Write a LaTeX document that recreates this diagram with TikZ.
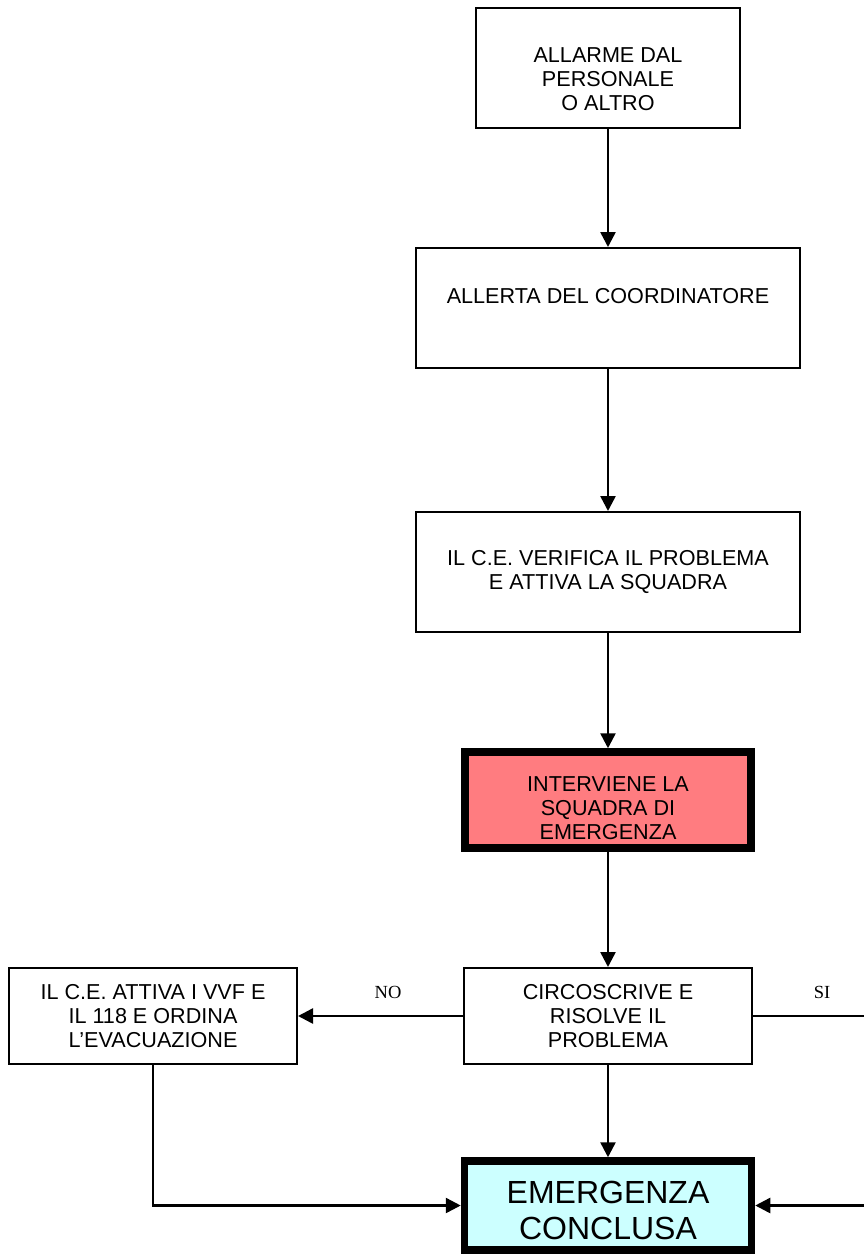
\documentclass[tikz,border=0pt]{standalone}
\usepackage{fontspec}
\setmainfont{Liberation Sans}
\newfontfamily\timesfont{Liberation Serif}
\usetikzlibrary{arrows.meta}
\definecolor{boxred}{HTML}{FF7C80}
\definecolor{boxcyan}{HTML}{CCFFFF}
\begin{document}
\begin{tikzpicture}[x=1pt,y=-1pt,
  box/.style={draw, line width=2pt, inner sep=0pt, fill=white},
  thickbox/.style={draw, line width=7.5pt, inner sep=0pt},
  boxtext/.style={align=center, font=\fontsize{21.6}{24}\selectfont},
  bigtext/.style={align=center, font=\fontsize{32}{36}\selectfont},
  flow/.style={line width=2.5pt, -{Triangle[length=15pt,width=15pt]}},
  yesno/.style={font=\timesfont\fontsize{18.5}{20}\selectfont}]
\useasboundingbox (0,0) rectangle (863,1254);

\node[box, minimum width=264pt, minimum height=120pt,
  label={[name=t1, boxtext, yshift=-11pt]center:ALLARME DAL\\PERSONALE\\O ALTRO}] (b1) at (608,68) {};
\node[box, minimum width=384pt, minimum height=120pt,
  label={[name=t2, boxtext, yshift=12pt]center:ALLERTA DEL COORDINATORE}] (b2) at (608,308) {};
\node[box, minimum width=384pt, minimum height=120pt,
  label={[name=t3, boxtext]center:IL C.E. VERIFICA IL PROBLEMA\\E ATTIVA LA SQUADRA}] (b3) at (608,572) {};
\node[thickbox, fill=boxred, minimum width=286pt, minimum height=96pt,
  label={[name=t4, boxtext, yshift=-8pt]center:INTERVIENE LA\\SQUADRA DI\\EMERGENZA}] (b4) at (608,800) {};
\node[box, minimum width=288pt, minimum height=96pt,
  label={[name=t5, boxtext]center:CIRCOSCRIVE E\\RISOLVE IL\\PROBLEMA}] (b5) at (608,1016) {};
\node[box, minimum width=288pt, minimum height=96pt,
  label={[name=t6, boxtext]center:IL C.E. ATTIVA I VVF E\\IL 118 E ORDINA\\L’EVACUAZIONE}] (b6) at (153,1016) {};
\node[thickbox, fill=boxcyan, minimum width=287pt, minimum height=89pt,
  label={[name=t7, bigtext, yshift=-5pt]center:EMERGENZA\\CONCLUSA}] (b7) at (608,1205.5) {};

\node[yesno] (no) at (388,992) {NO};
\node[yesno] (si) at (822,992) {SI};

\coordinate (siA) at (900,1016);
\coordinate (siB) at (900,1205.5);

\draw[flow] (b1) -- (b2);
\draw[flow] (b2) -- (b3);
\draw[flow] (b3) -- (b4);
\draw[flow] (b4) -- (b5);
\draw[flow] (b5) -- (b7);
\draw[flow] (b5.west) -- (b6.east);
\draw[flow] (b6.south) |- (b7.west);
\draw[flow] (b5.east) -- (siA) -- (siB) -- (b7.east);
\end{tikzpicture}
\end{document}
